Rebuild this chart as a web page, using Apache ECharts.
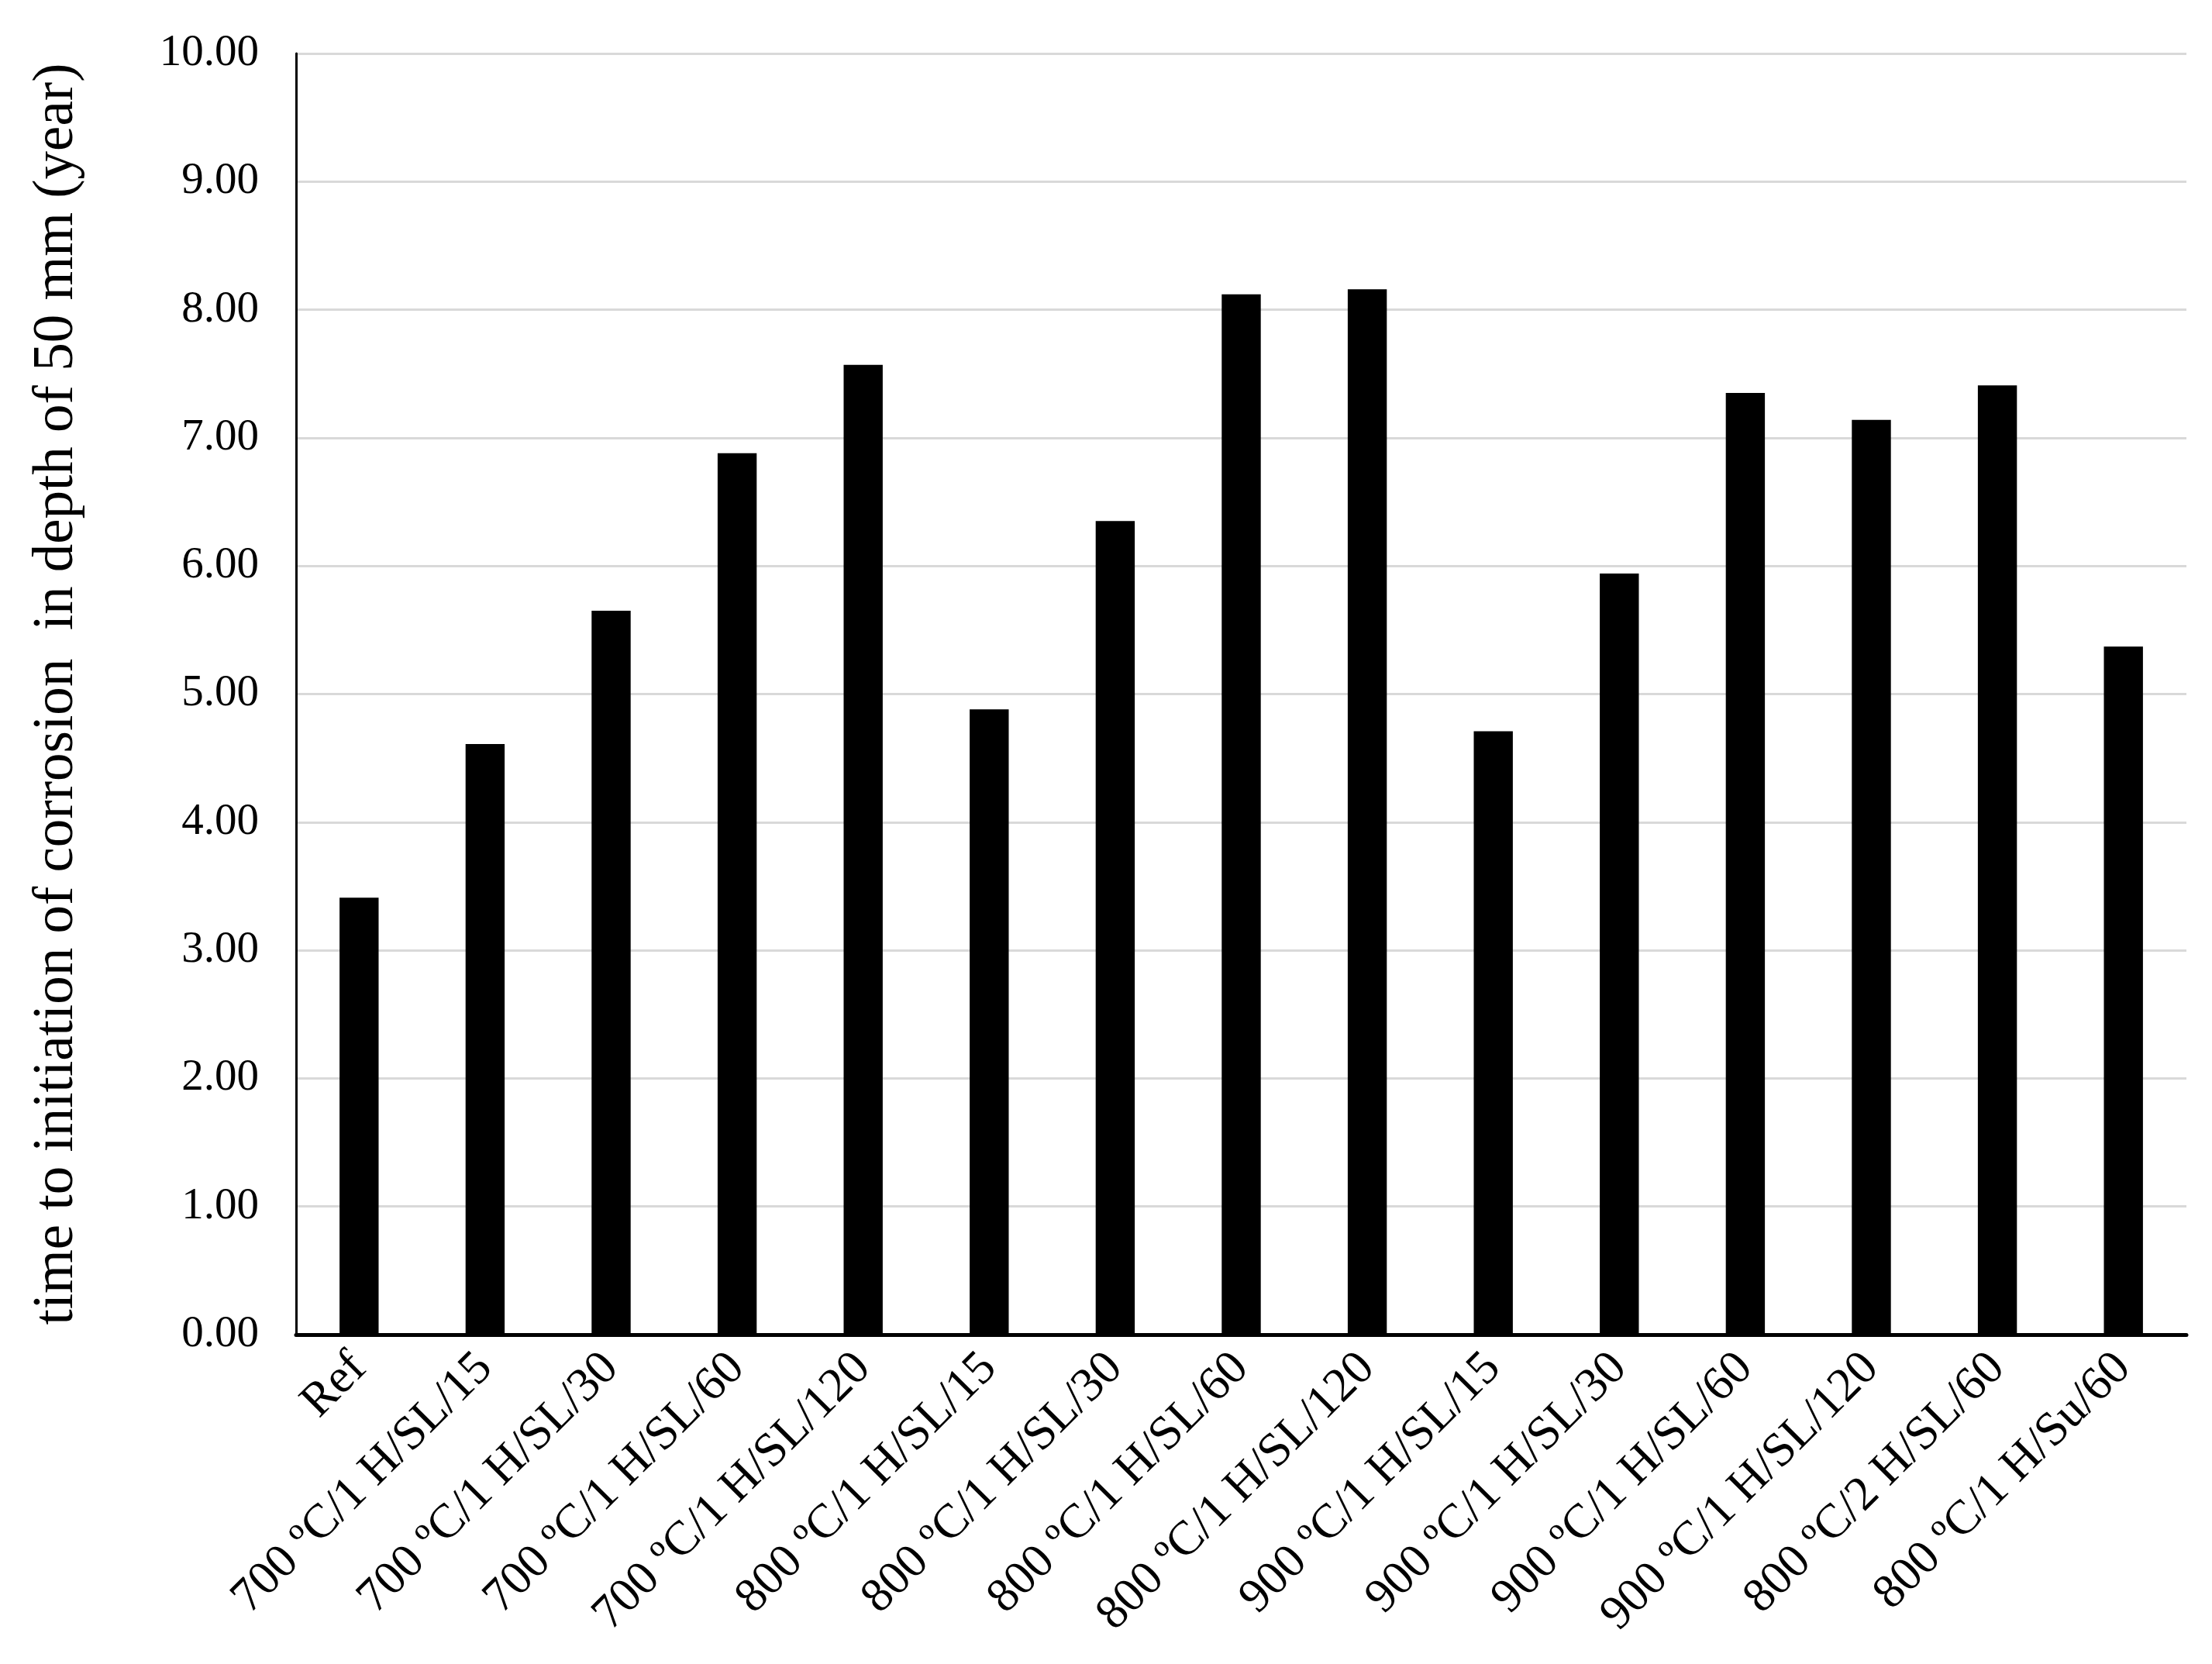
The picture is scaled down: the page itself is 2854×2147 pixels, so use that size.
<!DOCTYPE html>
<html>
<head>
<meta charset="utf-8">
<script src="https://cdn.jsdelivr.net/npm/echarts@6/dist/echarts.min.js"></script>
<style>
html,body{margin:0;padding:0;background:#fff;}
#chart{width:2854px;height:2147px;}
</style>
</head>
<body>
<div id="chart"></div>
<script>
var categories = [
  "Ref",
  "700 ºC/1 H/SL/15",
  "700 ºC/1 H/SL/30",
  "700 ºC/1 H/SL/60",
  "700 ºC/1 H/SL/120",
  "800 ºC/1 H/SL/15",
  "800 ºC/1 H/SL/30",
  "800 ºC/1 H/SL/60",
  "800 ºC/1 H/SL/120",
  "900 ºC/1 H/SL/15",
  "900 ºC/1 H/SL/30",
  "900 ºC/1 H/SL/60",
  "900 ºC/1 H/SL/120",
  "800 ºC/2 H/SL/60",
  "800 ºC/1 H/Su/60"
];
var values = [3.41, 4.61, 5.65, 6.88, 7.57, 4.88, 6.35, 8.12, 8.16, 4.71, 5.94, 7.35, 7.14, 7.41, 5.37];
var yTicks = [0, 1, 2, 3, 4, 5, 6, 7, 8, 9, 10];
var yTitle = "time to initiation of corrosion  in depth of 50 mm (year)";

var FONT = "'Liberation Serif', 'Times New Roman', serif";
var chart = echarts.init(document.getElementById('chart'), null, {renderer: 'canvas'});
chart.setOption({
  backgroundColor: '#ffffff',
  animation: false,
  grid: {left: 382, right: 33, top: 69, bottom: 425, containLabel: false},
  xAxis: {
    type: 'category',
    data: categories,
    axisLine: {show: true, lineStyle: {color: '#000', width: 5}},
    axisTick: {show: false},
    axisLabel: {
      interval: 0,
      rotate: 45,
      margin: 34,
      color: '#000',
      fontFamily: FONT,
      fontSize: 62
    },
    splitLine: {show: false}
  },
  yAxis: {
    type: 'value',
    min: yTicks[0],
    max: yTicks[yTicks.length - 1],
    interval: 1,
    name: yTitle,
    nameLocation: 'middle',
    nameGap: 272,
    nameRotate: 90,
    nameTextStyle: {color: '#000', fontFamily: FONT, fontSize: 73},
    axisLine: {show: true, lineStyle: {color: '#000', width: 3}},
    axisTick: {show: false},
    axisLabel: {
      margin: 48,
      color: '#000',
      fontFamily: FONT,
      fontSize: 57,
      formatter: function (v) { return v.toFixed(2); }
    },
    splitLine: {show: true, lineStyle: {color: '#d9d9d9', width: 3}}
  },
  series: [{
    type: 'bar',
    data: values,
    barCategoryGap: '69%',
    itemStyle: {color: '#000'}
  }]
});
</script>
</body>
</html>
